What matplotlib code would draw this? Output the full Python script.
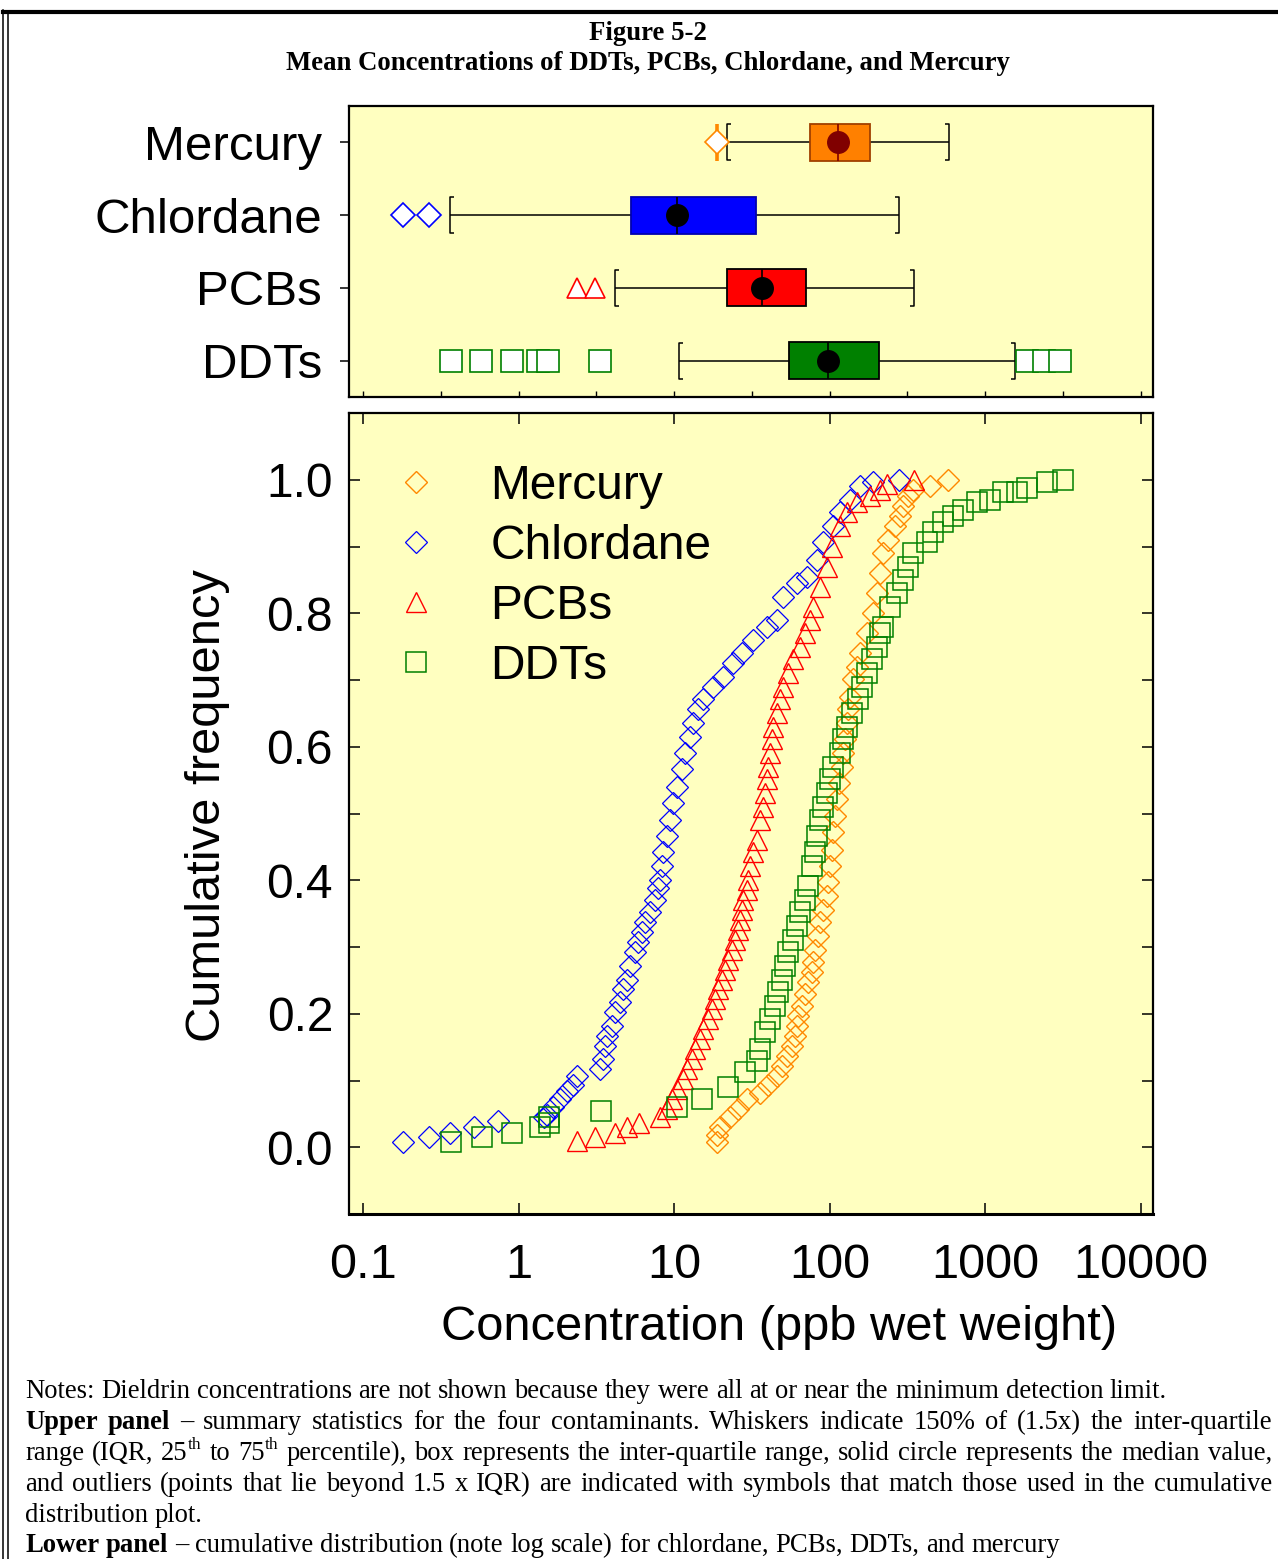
import numpy as np
import matplotlib
matplotlib.use('Agg')
import matplotlib.pyplot as plt
from matplotlib.path import Path
from matplotlib.lines import Line2D
from matplotlib.transforms import IdentityTransform
from matplotlib.ticker import FixedLocator, LogLocator, NullFormatter

W, H = 1278, 1559
plt.rcParams['font.family'] = ['Liberation Sans', 'DejaVu Sans']

# ---- upper panel: box summaries (bottom to top) ----
categories = ['DDTs', 'PCBs', 'Chlordane', 'Mercury']
q1 = [54.9, 21.9, 5.29, 75.0]
q3 = [208.0, 70.6, 33.7, 182.0]
medians = [97.7, 36.8, 10.5, 113.5]
whisk_lo = [10.8, 4.18, 0.362, 21.9]
whisk_hi = [1560.0, 349.0, 280.0, 586.0]
outliers = [[0.368, 0.574, 0.908, 1.33, 1.55, 3.34, 1862, 2395, 3033],
            [2.38, 3.10],
            [0.181, 0.266],
            [18.9]]
box_colors = ['#008000', '#FF0000', '#0000FF', '#FF8000']
edge_colors = ['#000000', '#000000', '#0000B0', '#A04000']
med_colors = ['black', 'black', 'black', '#800000']
out_markers = ['s', '^', 'D', 'D']
out_sizes = [15.5, 14.5, 11.8, 11.8]

# ---- lower panel: cumulative distributions ----
merc_conc = [18.9, 18.9, 19.8, 22.9, 25.8, 29.5, 35.7, 40.3, 45.9, 49.5, 53.3, 57.5, 60.0, 61.8, 62.7,
             66.5, 69.5, 72.8, 77.1, 78.3, 80.7, 84.3, 86.9, 90.8, 96.4, 97.7, 100.7, 103.8, 105.4, 108.5,
             111.7, 115.1, 120.3, 122.2, 125.9, 129.7, 131.6, 135.5, 141.6, 150.3, 157.1, 174.2, 190.5,
             201.9, 211, 221, 238, 264, 284, 297, 320, 344, 443, 578]
merc_freq = [0.008, 0.019, 0.031, 0.045, 0.057, 0.072, 0.082, 0.094, 0.106, 0.121, 0.136, 0.151, 0.166,
             0.181, 0.196, 0.211, 0.229, 0.247, 0.262, 0.277, 0.296, 0.316, 0.337, 0.356, 0.376, 0.397,
             0.421, 0.446, 0.472, 0.496, 0.521, 0.546, 0.570, 0.591, 0.611, 0.636, 0.656, 0.675, 0.701,
             0.720, 0.741, 0.771, 0.801, 0.831, 0.861, 0.891, 0.910, 0.930, 0.945, 0.960, 0.975, 0.985,
             0.991, 1.0]

chl_conc = [0.181, 0.265, 0.362, 0.518, 0.738, 1.46, 1.52, 1.67, 1.85, 2.05, 2.24, 2.38, 3.34, 3.49, 3.60,
            3.71, 3.99, 4.18, 4.50, 4.70, 4.99, 5.21, 5.61, 5.87, 6.22, 6.51, 7.01, 7.55, 7.89, 8.13,
            8.37, 8.50, 9.01, 9.42, 9.86, 10.45, 11.25, 11.77, 12.68, 13.25, 14.27, 15.36, 17.81, 20.66,
            23.95, 27.35, 32.2, 39.6, 45.9, 50.2, 61.8, 71.6, 83.2, 90.8, 105.4, 116.9, 135.5, 157.1,
            190.5, 280]
chl_freq = [0.008, 0.015, 0.022, 0.030, 0.039, 0.045, 0.049, 0.061, 0.072, 0.084, 0.094, 0.106, 0.117,
            0.132, 0.151, 0.166, 0.181, 0.202, 0.217, 0.237, 0.251, 0.271, 0.292, 0.307, 0.322, 0.337,
            0.353, 0.371, 0.389, 0.401, 0.421, 0.442, 0.466, 0.491, 0.516, 0.540, 0.566, 0.591, 0.615,
            0.636, 0.656, 0.671, 0.690, 0.705, 0.726, 0.741, 0.760, 0.780, 0.790, 0.825, 0.846, 0.855,
            0.880, 0.906, 0.930, 0.951, 0.970, 0.990, 0.996, 1.0]

pcb_conc = [2.38, 3.10, 4.18, 4.99, 5.96, 8.13, 9.01, 9.71, 10.45, 11.42, 12.13, 13.06, 13.65, 14.70,
            15.36, 16.55, 17.55, 18.35, 19.2, 20.4, 21.3, 22.3, 23.6, 24.7, 25.8, 26.6, 27.4, 27.8, 29.5,
            29.9, 30.8, 32.2, 34.2, 35.7, 37.4, 38.5, 39.6, 40.3, 41.4, 42.7, 43.3, 45.9, 48.0, 50.2,
            54.1, 58.2, 64.6, 69.5, 74.9, 78.3, 86.9, 96.4, 103.8, 116.9, 129.7, 150.3, 182, 211, 234, 349]
pcb_freq = [0.009, 0.015, 0.022, 0.030, 0.037, 0.045, 0.057, 0.072, 0.087, 0.102, 0.117, 0.132, 0.147,
            0.162, 0.177, 0.192, 0.207, 0.222, 0.237, 0.251, 0.266, 0.281, 0.296, 0.311, 0.326, 0.341,
            0.356, 0.371, 0.386, 0.401, 0.421, 0.442, 0.461, 0.491, 0.510, 0.531, 0.551, 0.570, 0.591,
            0.611, 0.630, 0.651, 0.671, 0.690, 0.711, 0.731, 0.750, 0.771, 0.790, 0.810, 0.840, 0.870,
            0.900, 0.930, 0.951, 0.966, 0.975, 0.985, 0.993, 1.0]

ddt_conc = [0.368, 0.582, 0.908, 1.37, 1.57, 1.57, 3.39, 10.45, 15.1, 22.3, 28.6, 34.2, 35.7, 38.5, 41.4,
            44.6, 46.6, 49.5, 51.8, 54.1, 58.2, 61.8, 64.6, 69.5, 72.8, 77.1, 80.7, 83.2, 86.9, 90.8,
            96.4, 100.7, 105.4, 116.9, 122.2, 129.7, 139.6, 152.4, 161.8, 174.2, 187.6, 201.9, 211, 221,
            245, 272, 297, 320, 344, 424, 463, 537, 623, 722, 889, 1077, 1306, 1607, 1862, 2506, 3175]
ddt_freq = [0.008, 0.015, 0.022, 0.030, 0.037, 0.045, 0.054, 0.061, 0.072, 0.091, 0.112, 0.129, 0.147,
            0.172, 0.192, 0.211, 0.232, 0.251, 0.271, 0.292, 0.311, 0.331, 0.352, 0.371, 0.391, 0.421,
            0.442, 0.466, 0.491, 0.510, 0.531, 0.551, 0.570, 0.591, 0.611, 0.630, 0.651, 0.671, 0.690,
            0.711, 0.731, 0.750, 0.771, 0.780, 0.810, 0.831, 0.850, 0.870, 0.891, 0.906, 0.921, 0.936,
            0.945, 0.955, 0.966, 0.970, 0.981, 0.982, 0.988, 0.996, 1.0]

x_ticks = [0.1, 1, 10, 100, 1000, 10000]
x_tick_labels = ['0.1', '1', '10', '100', '1000', '10000']
y_ticks = [0.0, 0.2, 0.4, 0.6, 0.8, 1.0]
y_tick_labels = ['0.0', '0.2', '0.4', '0.6', '0.8', '1.0']

bg = '#FFFFC0'
xlim = (0.0813, 12020)

fig = plt.figure(figsize=(W / 100, H / 100), dpi=100)


def px_axes(x0, y0, x1, y1):
    return fig.add_axes([x0 / W, 1 - y1 / H, (x1 - x0) / W, (y1 - y0) / H])


# ============ upper panel ============
ax1 = px_axes(349, 106, 1153, 397)
ax1.set_facecolor(bg)
ax1.set_xscale('log')
ax1.set_xlim(*xlim)
ax1.set_ylim(-0.5, 3.5)
bh = 0.51  # box height in category units

lbrack = Path([(0.1, -0.5), (0, -0.5), (0, 0.5), (0.1, 0.5)])
rbrack = Path([(-0.1, -0.5), (0, -0.5), (0, 0.5), (-0.1, 0.5)])

for i in range(len(categories)):
    ax1.hlines(i, whisk_lo[i], q1[i], color='black', lw=1.1, zorder=2)
    ax1.hlines(i, q3[i], whisk_hi[i], color='black', lw=1.1, zorder=2)
    ax1.plot([whisk_lo[i]], [i], ls='none', marker=lbrack, ms=26.5, mfc='none', mec='black', mew=1.1)
    ax1.plot([whisk_hi[i]], [i], ls='none', marker=rbrack, ms=26.5, mfc='none', mec='black', mew=1.1)
    ax1.barh(i, q3[i] - q1[i], left=q1[i], height=bh, color=box_colors[i],
             edgecolor=edge_colors[i], linewidth=1.3, zorder=3)
    ax1.vlines(medians[i], i - bh / 2, i + bh / 2, color=med_colors[i], lw=1.2, zorder=4)
    ax1.plot([medians[i]], [i], 'o', ms=15.5, color=med_colors[i], zorder=5)
    if categories[i] == 'Mercury':
        ax1.vlines(outliers[i], i - bh / 2, i + bh / 2, color='#FF8800', lw=2.6, zorder=4)
    ax1.plot(outliers[i], [i] * len(outliers[i]), ls='none', marker=out_markers[i],
             ms=out_sizes[i], mfc='white', mec=box_colors[i] if i != 3 else '#FF8800',
             mew=1.2, zorder=6)

ax1.set_yticks(range(len(categories)))
ax1.set_yticklabels(categories, fontsize=35.5)
ax1.tick_params(axis='y', direction='out', length=6.5, width=1.1, pad=13)
ax1.xaxis.set_major_locator(FixedLocator(10 ** (np.arange(-2, 9) / 2)))
ax1.xaxis.set_minor_locator(FixedLocator([]))
ax1.tick_params(axis='x', direction='in', length=4, width=1, labelbottom=False)
for s in ax1.spines.values():
    s.set_linewidth(1.6)

# ============ lower panel ============
ax2 = px_axes(349, 413, 1153, 1214)
ax2.set_facecolor(bg)
ax2.set_xscale('log')

series = [('Mercury', merc_conc, merc_freq, 'D', '#FF8800', 10.7, 1.0),
          ('Chlordane', chl_conc, chl_freq, 'D', '#0000FF', 10.7, 0.9),
          ('PCBs', pcb_conc, pcb_freq, '^', '#FF0000', 14.5, 1.0),
          ('DDTs', ddt_conc, ddt_freq, 's', '#008000', 14.5, 1.1)]
for name, conc, freq, mk, col, ms, mew in series:
    ax2.plot(conc, freq, ls='none', marker=mk, ms=ms, mfc='none', mec=col, mew=mew, label=name)

ax2.set_xlim(*xlim)
ax2.set_ylim(-0.1, 1.1)
ax2.set_xticks(x_ticks)
ax2.set_xticklabels(x_tick_labels)
ax2.xaxis.set_minor_locator(LogLocator(base=10, subs=np.arange(2, 10)))
ax2.xaxis.set_minor_formatter(NullFormatter())
ax2.set_yticks(y_ticks)
ax2.set_yticklabels(y_tick_labels)
ax2.set_yticks([0.1, 0.3, 0.5, 0.7, 0.9], minor=True)
ax2.tick_params(axis='x', which='major', direction='in', length=8, width=1.1, top=True,
                labelsize=35, pad=21)
ax2.tick_params(axis='x', which='minor', direction='in', length=3.6, width=1, top=True)
ax2.tick_params(axis='y', which='both', direction='in', length=8, width=1.1, right=True,
                labelsize=34.5, pad=11.5)
for s in ax2.spines.values():
    s.set_linewidth(1.6)
ax2.spines['bottom'].set_linewidth(2.2)

ax2.set_xlabel('Concentration (ppb wet weight)', fontsize=35.2, va='center')
ax2.xaxis.set_label_coords((779 - 349) / 804, -(1328 - 1214) / 801)
ax2.set_ylabel('Cumulative frequency', fontsize=35.2, va='center')
ax2.yaxis.set_label_coords((207 - 349) / 804, (1214 - 806) / 801)

ax2.legend(loc='upper left', bbox_to_anchor=((392 - 349) / 804, (1214 - 464) / 801),
           frameon=False, fontsize=34.5, handlelength=1.0, handletextpad=1.05,
           labelspacing=0.31, borderpad=0, borderaxespad=0)

# ============ title, frame, notes ============
fig.text(648 / W, 1 - 33 / H, 'Figure 5-2', ha='center', va='center', fontsize=19.3,
         fontweight='bold', family='Liberation Serif')
fig.text(648 / W, 1 - 63 / H, 'Mean Concentrations of DDTs, PCBs, Chlordane, and Mercury',
         ha='center', va='center', fontsize=19.3, fontweight='bold', family='Liberation Serif')

fig.add_artist(Line2D([3 / W, 1], [1 - 11.5 / H] * 2, transform=fig.transFigure, color='black', lw=3))
fig.add_artist(Line2D([3 / W] * 2, [0, 1 - 10 / H], transform=fig.transFigure, color='black', lw=1.1))
fig.add_artist(Line2D([8 / W] * 2, [0, 1 - 14 / H], transform=fig.transFigure, color='black', lw=1.1))

notes = [("Notes: Dieldrin concentrations are not shown because they were all at or near the minimum detection limit.", 0, False),
         ("Upper panel – summary statistics for the four contaminants. Whiskers indicate 150% of (1.5x) the inter-quartile", 2, True),
         ("range (IQR, 25^th to 75^th percentile), box represents the inter-quartile range, solid circle represents the median value,", 0, True),
         ("and outliers (points that lie beyond 1.5 x IQR) are indicated with symbols that match those used in the cumulative", 0, True),
         ("distribution plot.", 0, False),
         ("Lower panel – cumulative distribution (note log scale) for chlordane, PCBs, DDTs, and mercury", 2, False)]
note_base = [1398, 1429, 1460, 1491, 1522, 1552]
note_size = 19.2
rend = fig.canvas.get_renderer()


def note_line(text, nbold, justify, xl, xr, ybase, size):
    em = size * 100 / 72
    words = []
    for i, w in enumerate(text.split(' ')):
        pieces = []
        for j, p in enumerate(w.split('^')):
            sup = j > 0
            t = fig.text(0, H - ybase + (0.42 * em if sup else 0), p, transform=IdentityTransform(),
                         fontsize=size * 0.65 if sup else size, family='Liberation Serif',
                         fontweight='bold' if i < nbold else 'normal', ha='left', va='baseline')
            pieces.append(t)
        words.append(pieces)
    widths = [[t.get_window_extent(rend).width for t in pieces] for pieces in words]
    total = sum(sum(ws) for ws in widths)
    gap = (xr - xl - total) / (len(words) - 1) if justify else 0.25 * em
    x = xl
    for pieces, ws in zip(words, widths):
        for t, wd in zip(pieces, ws):
            t.set_x(x)
            x += wd
        x += gap


for (txt, nb, just), yb in zip(notes, note_base):
    note_line(txt, nb, just, 25, 1272, yb, note_size)

fig.savefig('out.png', dpi=100, facecolor='white')
